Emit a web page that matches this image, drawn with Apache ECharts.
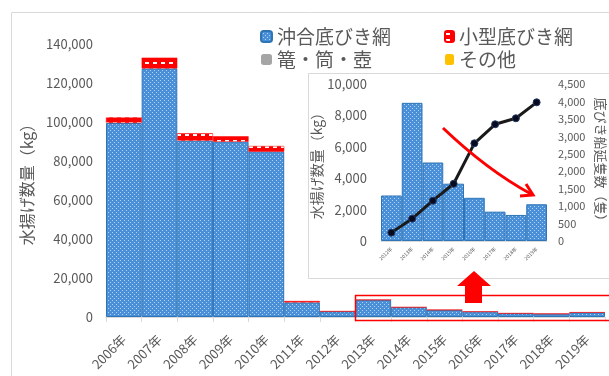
<!DOCTYPE html>
<html>
<head>
<meta charset="utf-8">
<script src="https://cdn.jsdelivr.net/npm/echarts@6/dist/echarts.min.js"></script>
<style>
html,body{margin:0;padding:0;background:#fff;}
#c{width:609px;height:376px;}
</style>
</head>
<body>
<div id="c"></div>
<script>
// ---- data ----
const years = ['2006年','2007年','2008年','2009年','2010年','2011年','2012年','2013年','2014年','2015年','2016年','2017年','2018年','2019年'];
const okiai = [99500,127500,90400,89900,84800,7500,2900,8800,5000,3650,2750,1870,1660,2340];
const kogata = [2900,5500,3800,2800,2900,700,0,0,0,0,0,0,0,0];
const kago = [0,0,0,0,0,0,0,0,0,0,0,0,0,0];
const sonota = [0,0,0,0,0,0,0,0,0,0,0,0,0,0];
const mainTicks = [0,20000,40000,60000,80000,100000,120000,140000];

const insetYears = ['2012年','2013年','2014年','2015年','2016年','2017年','2018年','2019年'];
const insetCatch = [2900,8800,5000,3650,2750,1870,1660,2340];
const insetBoats = [240,640,1155,1640,2800,3345,3517,3975];

// ---- patterns ----
function bluePattern(){
  const c=document.createElement('canvas');c.width=4;c.height=4;
  const g=c.getContext('2d');
  g.fillStyle='#4a90d9';g.fillRect(0,0,4,4);
  g.fillStyle='#b3d1f0';g.fillRect(0,0,1,1);g.fillRect(2,2,1,1);
  return {image:c,repeat:'repeat'};
}
function redPattern(){
  const c=document.createElement('canvas');c.width=8;c.height=6;
  const g=c.getContext('2d');
  g.fillStyle='#ff0000';g.fillRect(0,0,8,6);
  g.fillStyle='#ffffff';g.fillRect(1,2,4,2);
  return {image:c,repeat:'repeat'};
}
const fmt = v => v.toLocaleString('en-US');
const gray='#595959';
const font='"Noto Sans CJK JP","Noto Sans",sans-serif';

const chart = echarts.init(document.getElementById('c'),null,{renderer:'canvas'});
chart.setOption({
  animation:false,
  textStyle:{fontFamily:font},
  legend:[
    {left:255,top:22,orient:'vertical',itemWidth:11,itemHeight:11,itemGap:4,
     textStyle:{fontSize:19,color:gray,fontFamily:font},data:['沖合底びき網','篭・筒・壺']},
    {left:439,top:22,orient:'vertical',itemWidth:9,itemHeight:11,itemGap:4,
     textStyle:{fontSize:19,color:gray,fontFamily:font},data:['小型底びき網','その他']}
  ],
  grid:[
    {left:106,right:4,top:44,bottom:59},
    {left:381,right:62,top:84,bottom:135}
  ],
  xAxis:[
    {type:'category',gridIndex:0,data:years,
     axisLine:{lineStyle:{color:'#d9d9d9'}},
     axisTick:{show:true,length:5,lineStyle:{color:'#d9d9d9'}},
     axisLabel:{rotate:45,fontSize:13,color:gray,margin:20,interval:0,fontFamily:font}},
    {type:'category',gridIndex:1,data:insetYears,
     axisLine:{lineStyle:{color:'#d9d9d9'}},
     axisTick:{show:false},
     axisLabel:{rotate:45,fontSize:5,color:gray,margin:7,interval:0,fontFamily:font}}
  ],
  yAxis:[
    {type:'value',gridIndex:0,min:mainTicks[0],max:mainTicks[mainTicks.length-1],interval:20000,
     name:'水揚げ数量（kg）',nameLocation:'middle',nameRotate:90,nameGap:67,
     nameTextStyle:{fontSize:16,color:gray,fontFamily:font},
     axisLine:{show:false},axisTick:{show:false},splitLine:{show:false},
     axisLabel:{fontSize:13,color:gray,margin:13,formatter:fmt,fontFamily:font}},
    {type:'value',gridIndex:1,min:0,max:10000,interval:2000,
     name:'水揚げ数量（kg）',nameLocation:'middle',nameRotate:90,nameGap:50,
     nameTextStyle:{fontSize:14,color:gray,fontFamily:font},
     axisLine:{show:false},axisTick:{show:false},splitLine:{show:false},
     axisLabel:{fontSize:13,color:gray,margin:14,formatter:fmt,fontFamily:font}},
    {type:'value',gridIndex:1,position:'right',min:0,max:4500,interval:500,
     name:'底びき船延隻数（隻）',nameLocation:'middle',nameRotate:-90,nameGap:47,
     nameTextStyle:{fontSize:13,color:gray,fontFamily:font},
     axisLine:{show:false},axisTick:{show:false},splitLine:{show:false},
     axisLabel:{fontSize:11,color:gray,margin:11,formatter:fmt,fontFamily:font}}
  ],
  series:[
    {name:'沖合底びき網',type:'bar',stack:'a',xAxisIndex:0,yAxisIndex:0,data:okiai,
     barCategoryGap:'0%',itemStyle:{color:bluePattern(),borderColor:'#2e75b6',borderWidth:1}},
    {name:'小型底びき網',type:'bar',stack:'a',xAxisIndex:0,yAxisIndex:0,data:kogata,
     itemStyle:{color:redPattern(),borderColor:'#ff0000',borderWidth:0.5}},
    {name:'篭・筒・壺',type:'bar',stack:'a',xAxisIndex:0,yAxisIndex:0,data:kago,
     itemStyle:{color:'#a5a5a5'}},
    {name:'その他',type:'bar',stack:'a',xAxisIndex:0,yAxisIndex:0,data:sonota,
     itemStyle:{color:'#ffc000'}},
    {name:'水揚げ数量',type:'bar',xAxisIndex:1,yAxisIndex:1,data:insetCatch,
     barCategoryGap:'0%',itemStyle:{color:bluePattern(),borderColor:'#2e75b6',borderWidth:1}},
    {name:'延隻数',type:'line',xAxisIndex:1,yAxisIndex:2,data:insetBoats,
     symbol:'circle',symbolSize:7,z:5,
     lineStyle:{color:'#1a1a1a',width:3},
     itemStyle:{color:'#0a0a1e',borderColor:'#203864',borderWidth:1}}
  ],
  graphic:[
    {type:'rect',z:-1,shape:{x:11.5,y:12.5,width:620,height:400},style:{fill:null,stroke:'#d9d9d9',lineWidth:1}},
    {type:'rect',z:0,shape:{x:308.5,y:73.5,width:320,height:205},style:{fill:'#fff',stroke:'#d9d9d9',lineWidth:1}},
    {type:'rect',z:20,shape:{x:355.5,y:295.5,width:270,height:25},style:{fill:null,stroke:'#ff0000',lineWidth:1.5}},
    {type:'polygon',z:20,shape:{points:[[474,271],[491,286],[482,286],[482,303],[465,303],[465,286],[457,286]]},style:{fill:'#ff0000'}},
    {type:'bezierCurve',z:20,shape:{x1:443,y1:128,cpx1:487,cpy1:170,x2:531,y2:194},style:{fill:null,stroke:'#ff0000',lineWidth:3}},
    {type:'polyline',z:20,shape:{points:[[526,184],[533,195],[520,196]]},style:{fill:null,stroke:'#ff0000',lineWidth:3,lineJoin:'miter'}}
  ]
});
</script>
</body>
</html>
